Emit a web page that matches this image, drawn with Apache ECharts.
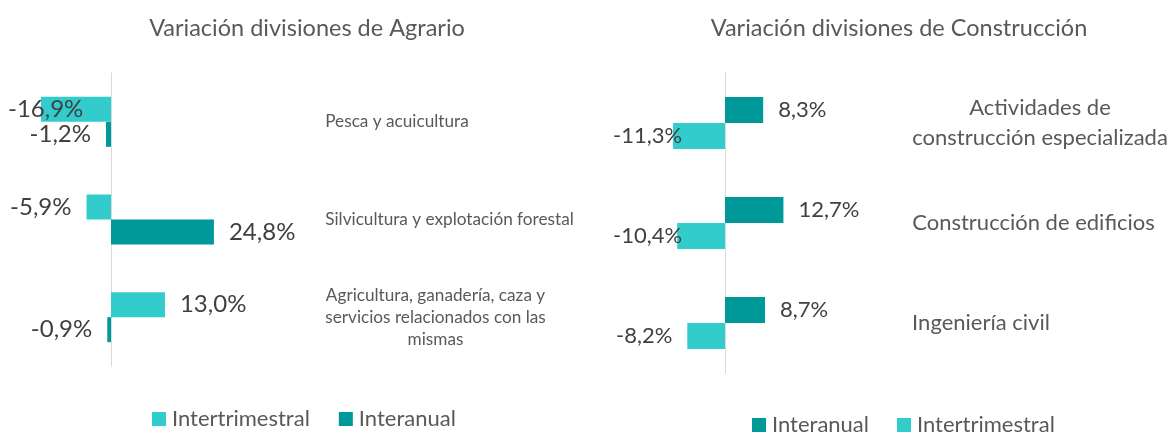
<!DOCTYPE html>
<html>
<head>
<meta charset="utf-8">
<script src="https://cdn.jsdelivr.net/npm/echarts@6/dist/echarts.min.js"></script>
<style>
  html, body { margin: 0; padding: 0; background: #ffffff; }
  #chart { width: 1173px; height: 432px; }
</style>
</head>
<body>
<div id="chart"></div>
<script>
// Agrario divisions (top to bottom)
const agrarioCategories = [
  'Pesca y acuicultura',
  'Silvicultura y explotación forestal',
  'Agricultura, ganadería, caza y\nservicios relacionados con las\nmismas'
];
const agrarioIntertrimestral = [-16.9, -5.9, 13.0];
const agrarioInteranual = [-1.2, 24.8, -0.9];

// Construcción divisions (top to bottom)
const construccionCategories = [
  'Actividades de\nconstrucción especializada',
  'Construcción de edificios',
  'Ingeniería civil'
];
const construccionInteranual = [8.3, 12.7, 8.7];
const construccionIntertrimestral = [-11.3, -10.4, -8.2];

const FONT = 'Lato';
const LIGHT = '#33CCCC';
const DARK = '#009999';
const TEXT = '#595959';
const LABEL = '#404040';

const fmt = v => v.toFixed(1).replace('.', ',') + '%';

// Width of the widest line of a label, so each line can be centred within its block
const measureCtx = document.createElement('canvas').getContext('2d');
function widestLine(text, size) {
  measureCtx.font = size + 'px ' + FONT;
  return Math.ceil(Math.max(...text.split('\n').map(l => measureCtx.measureText(l).width)));
}
function categoryLabel(cats, size, lineHeight, margin) {
  const rich = {};
  cats.forEach((c, i) => {
    rich['c' + i] = {
      width: widestLine(c, size), align: 'center',
      fontFamily: FONT, fontSize: size, lineHeight: lineHeight, color: TEXT
    };
  });
  return {
    align: 'left', margin: margin,
    fontFamily: FONT, fontSize: size, lineHeight: lineHeight, color: TEXT,
    formatter: (value, index) => value.split('\n').map(l => '{c' + index + '|' + l + '}').join('\n'),
    rich: rich
  };
}

// Values become bar items whose label sits outside the bar end
function barItems(values) {
  return values.map(v => ({ value: v, label: { position: v < 0 ? 'left' : 'right' } }));
}
// Labels that would run past the panel edge are held at it
function clampTo(edge) {
  return params => (params.labelRect.x < edge
    ? { x: edge, align: 'left', verticalAlign: 'middle' }
    : {});
}

function barSeries(name, color, values, gridIdx, edge, size, width) {
  return {
    name: name, type: 'bar',
    xAxisIndex: gridIdx, yAxisIndex: gridIdx * 2,
    data: barItems(values),
    barWidth: width, barGap: '0%',
    itemStyle: { color: color },
    label: {
      show: true, distance: 15, formatter: p => fmt(p.value),
      fontFamily: FONT, fontSize: size, color: LABEL
    },
    labelLayout: clampTo(edge),
    emphasis: { disabled: true }
  };
}

const axisLineStyle = { show: true, onZero: true, lineStyle: { color: '#D9D9D9', width: 1 } };
const legendText = { fontFamily: FONT, fontSize: 22, color: TEXT, padding: [0, 0, 0, 1] };

const option = {
  animation: false,
  backgroundColor: '#ffffff',
  textStyle: { fontFamily: FONT },
  title: [
    { text: 'Variación divisiones de Agrario', left: 302, top: 11, textAlign: 'center',
      textStyle: { fontFamily: FONT, fontSize: 23.5, fontWeight: 'normal', color: TEXT } },
    { text: 'Variación divisiones de Construcción', left: 894, top: 11, textAlign: 'center',
      textStyle: { fontFamily: FONT, fontSize: 23.5, fontWeight: 'normal', color: TEXT } }
  ],
  legend: [
    { left: 147, top: 403, itemWidth: 14, itemHeight: 14, itemGap: 29, icon: 'rect',
      data: ['Intertrimestral', 'Interanual'], textStyle: legendText },
    { left: 747, top: 409, itemWidth: 14, itemHeight: 14, itemGap: 28, icon: 'rect',
      data: ['Interanual', 'Intertrimestral'], textStyle: legendText }
  ],
  grid: [
    { left: 28, width: 207.5, top: 73, height: 293 },
    { left: 656, width: 138, top: 73, height: 300 }
  ],
  xAxis: [
    { type: 'value', gridIndex: 0, min: -20, max: 30, show: false },
    { type: 'value', gridIndex: 1, min: -15, max: 15, show: false }
  ],
  yAxis: [
    { type: 'category', gridIndex: 0, inverse: true, data: agrarioCategories,
      axisLine: axisLineStyle, axisTick: { show: false }, axisLabel: { show: false } },
    { type: 'category', gridIndex: 0, inverse: true, position: 'right', data: agrarioCategories,
      axisLine: { show: false, onZero: false }, axisTick: { show: false },
      axisLabel: categoryLabel(agrarioCategories, 17.2, 22, 89.5) },
    { type: 'category', gridIndex: 1, inverse: true, data: construccionCategories,
      axisLine: axisLineStyle, axisTick: { show: false }, axisLabel: { show: false } },
    { type: 'category', gridIndex: 1, inverse: true, position: 'right', data: construccionCategories,
      axisLine: { show: false, onZero: false }, axisTick: { show: false },
      axisLabel: categoryLabel(construccionCategories, 22, 30, 118) }
  ],
  series: [
    barSeries('Intertrimestral', LIGHT, agrarioIntertrimestral, 0, 8, 24, 25),
    barSeries('Interanual', DARK, agrarioInteranual, 0, 8, 24, 25),
    barSeries('Interanual', DARK, construccionInteranual, 1, 613, 22, 26),
    barSeries('Intertrimestral', LIGHT, construccionIntertrimestral, 1, 613, 22, 26)
  ]
};

const chart = echarts.init(document.getElementById('chart'), null, { renderer: 'canvas' });
chart.setOption(option);
</script>
</body>
</html>
